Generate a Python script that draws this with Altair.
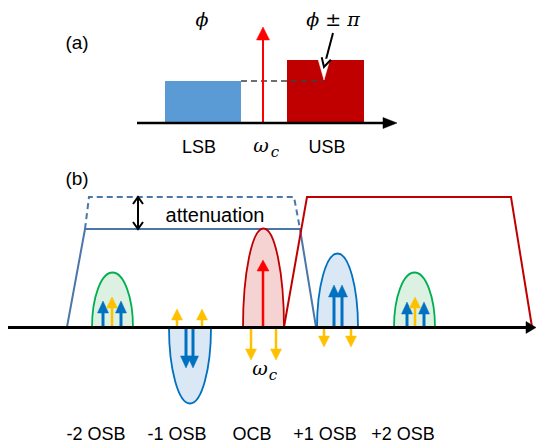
import altair as alt
import pandas as pd

# ------------------------------------------------------------------ data
# panel (a): spectrum bands
a_labels = ["LSB", "USB"]
a_x0 = [165, 287]
a_x1 = [241, 364]
a_top = [81, 60]
a_fill = ["#5B9BD5", "#C00000"]
a_base = 123
a_axis_x = [137, 397]
a_carrier_x = 263
a_carrier_tip = 27
a_notch_x = 324
a_notch_top = 59
a_dash_x = [241, 323]
a_dash_y = 81
a_ptr_x = [333, 324]
a_ptr_y = [33, 67]

# panel (b): filter passbands (polylines)
dashed_x = [85, 89, 294, 300]
dashed_y = [229, 197, 197, 229]
blue_x = [67, 85, 300, 316, 67]
blue_y = [327, 229, 229, 327, 327]
red_x = [284, 307, 511, 532]
red_y = [327, 197, 197, 327]
b_base = 327.5
b_axis_x = [8, 536]
atten_x = 138
atten_y = [197, 229]

# panel (b): sideband lobes (positive height = above axis)
lobe_name = ["-2 OSB", "-1 OSB", "OCB", "+1 OSB", "+2 OSB"]
lobe_cx = [112.5, 190, 263.5, 337.5, 414.5]
lobe_halfw = [20.5, 21, 20.5, 20.5, 20.5]
lobe_h = [55, -76, 99, 74, 55]
lobe_fill = ["#DCF1E2", "#DAE8F5", "#F5D3D3", "#DAE8F5", "#DCF1E2"]
lobe_edge = ["#00B050", "#0070C0", "#C00000", "#0070C0", "#00B050"]

# panel (b): spectral line arrows
arr_x = [103, 112, 121, 177, 202, 186, 193, 263, 251, 276, 324, 351, 334, 342, 407, 415, 424]
arr_tip = [301, 297, 301, 309, 309, 368, 368, 260, 360, 360, 347, 347, 285, 285, 302, 297, 302]
arr_kind = ["blue", "yellow", "blue", "yellow", "yellow", "blue", "blue", "red", "yellow",
            "yellow", "yellow", "yellow", "blue", "blue", "blue", "yellow", "blue"]

# text
sans_text = ["(a)", "LSB", "USB", "(b)", "attenuation",
             "-2 OSB", "-1 OSB", "OCB", "+1 OSB", "+2 OSB"]
sans_x = [77, 199, 327, 77, 215, 96, 177, 252, 325, 403]
sans_y = [43, 148, 148, 179, 216, 435, 435, 435, 435, 435]
sans_size = [19, 18, 18, 19, 20, 18, 18, 18, 18, 18]
math_text = ["ϕ", "ϕ ± π", "ω", "ω"]
math_x = [202, 333, 261, 260]
math_y = [20, 20, 146, 369]
sub_text = ["c", "c"]
sub_x = [275, 273]
sub_y = [152, 375]

# ------------------------------------------------------------------ styles
COL = {"blue": "#0070C0", "yellow": "#FFC000", "red": "#FF0000"}
HEAD = {"blue": (11, 12), "yellow": (11, 11), "red": (12, 11)}
SHAFT_W = {"blue": 3, "yellow": 2.5, "red": 2.5}
TRAP_BLUE = "#4A76A8"
K = 0.5523


def head_path(w, h, up=True):
    s = 1 if up else -1
    return f"M 0 0 L {-w/2} {s*h} L {w/2} {s*h} Z"


def lobe_path(a, h):
    s = -1 if h > 0 else 1
    hh = abs(h)
    return (f"M {-a} 0 C {-a} {s*K*hh} {-K*a} {s*hh} 0 {s*hh} "
            f"C {K*a} {s*hh} {a} {s*K*hh} {a} 0 Z")


# ------------------------------------------------------------------ tables
rects = pd.DataFrame({"x": a_x0, "x2": a_x1, "y": a_top, "y2": [a_base] * 2,
                      "fill": a_fill, "label": a_labels})

lines = []
for name, xs_, ys_, col in [("blue", blue_x, blue_y, TRAP_BLUE),
                            ("red", red_x, red_y, "#C00000")]:
    for i, (px, py) in enumerate(zip(xs_, ys_)):
        lines.append({"x": px, "y": py, "i": i, "g": name, "col": col})
lines = pd.DataFrame(lines)
dashed = pd.DataFrame({"x": dashed_x, "y": dashed_y, "i": list(range(len(dashed_x)))})

shafts = []
glyphs = []
lobes = []
for cx, a, h, f, e in zip(lobe_cx, lobe_halfw, lobe_h, lobe_fill, lobe_edge):
    lobes.append({"x": cx, "y": b_base, "path": lobe_path(a, h), "fill": f,
                  "stroke": e, "sw": 1.8})
for x, tip, k in zip(arr_x, arr_tip, arr_kind):
    w, h = HEAD[k]
    up = tip < b_base
    end = tip + (h - 1) if up else tip - (h - 1)
    shafts.append({"x": x, "y": b_base, "x2": x, "y2": end, "col": COL[k], "sw": SHAFT_W[k]})
    glyphs.append({"x": x, "y": tip, "path": head_path(w, h, up), "fill": COL[k],
                   "stroke": COL[k], "sw": 0.5})

# panel (a) carrier
shafts.append({"x": a_carrier_x, "y": a_base, "x2": a_carrier_x, "y2": a_carrier_tip + 11,
               "col": "#FF0000", "sw": 2})
glyphs.append({"x": a_carrier_x, "y": a_carrier_tip, "path": head_path(13, 13, True),
               "fill": "#FF0000", "stroke": "#FF0000", "sw": 0.5})
# panel (a) axis
shafts.append({"x": a_axis_x[0], "y": a_base, "x2": a_axis_x[1] - 11, "y2": a_base,
               "col": "#000000", "sw": 2.5})
glyphs.append({"x": a_axis_x[1], "y": a_base, "path": "M 0 0 L -14 -5.5 L -14 5.5 Z",
               "fill": "#000000", "stroke": "#000000", "sw": 0.5})
# notch
glyphs.append({"x": a_notch_x, "y": a_notch_top, "path": "M -6 0 L 6 0 L 0 21 Z",
               "fill": "#FFFFFF", "stroke": "#FFFFFF", "sw": 0.5})
# pointer arrow
shafts.append({"x": a_ptr_x[0], "y": a_ptr_y[0], "x2": a_ptr_x[1], "y2": a_ptr_y[1],
               "col": "#000000", "sw": 2})
glyphs.append({"x": a_ptr_x[1], "y": a_ptr_y[1], "path": "M -2.3 -9.7 L 0 0 L 6.8 -7.3",
               "fill": "transparent", "stroke": "#000000", "sw": 2})
# panel (b) axis
shafts.append({"x": b_axis_x[0], "y": b_base, "x2": b_axis_x[1] - 8, "y2": b_base,
               "col": "#000000", "sw": 3})
glyphs.append({"x": b_axis_x[1], "y": b_base, "path": "M 0 0 L -10 -6 L -10 6 Z",
               "fill": "#000000", "stroke": "#000000", "sw": 0.5})
# attenuation double arrow
shafts.append({"x": atten_x, "y": atten_y[0], "x2": atten_x, "y2": atten_y[1],
               "col": "#000000", "sw": 2})
glyphs.append({"x": atten_x, "y": atten_y[0], "path": "M -5 7 L 0 0 L 5 7",
               "fill": "transparent", "stroke": "#000000", "sw": 2})
glyphs.append({"x": atten_x, "y": atten_y[1], "path": "M -5 -7 L 0 0 L 5 -7",
               "fill": "transparent", "stroke": "#000000", "sw": 2})

shafts = pd.DataFrame(shafts)
glyphs = pd.DataFrame(glyphs)
lobes = pd.DataFrame(lobes)
dash_df = pd.DataFrame({"x": [a_dash_x[0]], "x2": [a_dash_x[1]], "y": [a_dash_y]})
sans = pd.DataFrame({"x": sans_x, "y": sans_y, "t": sans_text, "s": sans_size})
math = pd.DataFrame({"x": math_x, "y": math_y, "t": math_text})
sub = pd.DataFrame({"x": sub_x, "y": sub_y, "t": sub_text})

# ------------------------------------------------------------------ chart
xs = alt.Scale(domain=[8, 536], nice=False, zero=False)
ys = alt.Scale(domain=[8, 446], nice=False, zero=False, reverse=True)
X = alt.X("x:Q", scale=xs, axis=None)
Y = alt.Y("y:Q", scale=ys, axis=None)

rect_l = alt.Chart(rects).mark_rect().encode(
    x=X, x2="x2:Q", y=Y, y2="y2:Q", fill=alt.Fill("fill:N", scale=None))

dash_l = alt.Chart(dash_df).mark_rule(color="#404040", strokeWidth=1.3,
                                      strokeDash=[6, 4]).encode(x=X, x2="x2:Q", y=Y)

trap_l = alt.Chart(lines).mark_line(strokeWidth=2, strokeJoin="miter").encode(
    x=X, y=Y, order="i:Q", detail="g:N", color=alt.Color("col:N", scale=None))

trap_d = alt.Chart(dashed).mark_line(strokeWidth=2, strokeDash=[6, 4],
                                     color=TRAP_BLUE).encode(x=X, y=Y, order="i:Q")


def glyph_layer(df):
    return alt.Chart(df).mark_point(filled=True, opacity=1).encode(
        x=X, y=Y,
        shape=alt.Shape("path:N", scale=None),
        fill=alt.Fill("fill:N", scale=None),
        stroke=alt.Stroke("stroke:N", scale=None),
        strokeWidth=alt.StrokeWidth("sw:Q", scale=None),
        size=alt.value(4))


lobe_l = glyph_layer(lobes)
head_l = glyph_layer(glyphs)

shaft_l = alt.Chart(shafts).mark_rule().encode(
    x=X, y=Y, x2="x2:Q", y2="y2:Q",
    color=alt.Color("col:N", scale=None),
    strokeWidth=alt.StrokeWidth("sw:Q", scale=None))

sans_l = alt.Chart(sans).mark_text(font="Liberation Sans", align="center",
                                   baseline="middle", color="#000000").encode(
    x=X, y=Y, text="t:N", size=alt.Size("s:Q", scale=None))

math_l = alt.Chart(math).mark_text(font="DejaVu Serif", fontStyle="italic", fontSize=19,
                                   align="center", baseline="middle",
                                   color="#000000").encode(x=X, y=Y, text="t:N")

sub_l = alt.Chart(sub).mark_text(font="DejaVu Serif", fontStyle="italic", fontSize=15,
                                 align="center", baseline="middle",
                                 color="#000000").encode(x=X, y=Y, text="t:N")

chart = alt.layer(rect_l, dash_l, trap_l, trap_d, lobe_l, shaft_l, head_l,
                  sans_l, math_l, sub_l).properties(
    width=528, height=438, padding=0, autosize="none"
).configure_view(stroke=None)

chart.save("out.html", embed_options={"renderer": "svg", "actions": False})
